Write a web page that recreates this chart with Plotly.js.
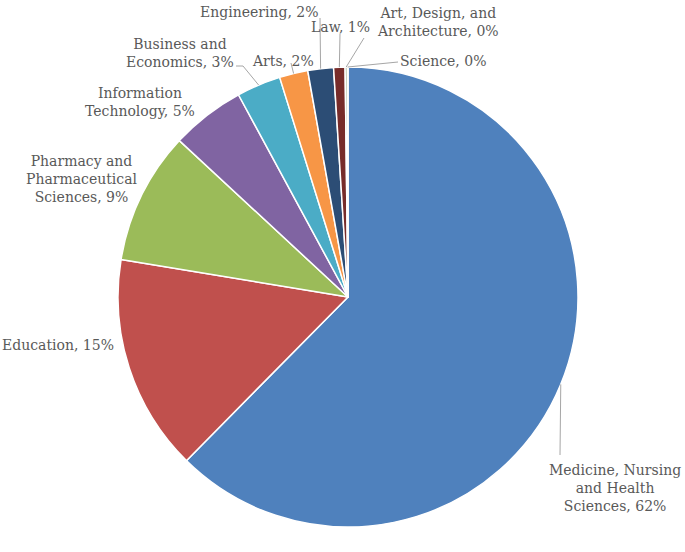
<!DOCTYPE html>
<html>
<head>
<meta charset="utf-8">
<script src="https://cdn.plot.ly/plotly-3.0.1.min.js"></script>
<style>
  html, body { margin: 0; padding: 0; background: #fff; }
  #chart { width: 685px; height: 552px; }
</style>
</head>
<body>
<div id="chart"></div>
<script>
// Données (parts estimées en %)
const categories = [
    'Medicine, Nursing and Health Sciences',
    'Education',
    'Pharmacy and Pharmaceutical Sciences',
    'Information Technology',
    'Business and Economics',
    'Arts',
    'Engineering',
    'Law',
    'Art, Design, and Architecture',
    'Science'
];
const shares = [62.4, 15.2, 9.3, 5.2, 3.1, 2.0, 1.8, 0.8, 0.15, 0.05];
// Étiquettes avec retours à la ligne
const labelText = [
    'Medicine, Nursing<br>and Health<br>Sciences',
    'Education',
    'Pharmacy and<br>Pharmaceutical<br>Sciences',
    'Information<br>Technology',
    'Business and<br>Economics',
    'Arts',
    'Engineering',
    'Law',
    'Art, Design, and<br>Architecture',
    'Science'
];
const colors = ['#4F81BD', '#C0504D', '#9BBB59', '#8064A2', '#4BACC6',
                '#F79646', '#2C4D75', '#772C2A', '#5F7530', '#4D3B62'];

// Mise en page (pixels)
const W = 685, H = 552;
const cx = 348, cy = 297, R = 230;
// centre des étiquettes
const labelPos = [
    [615, 488], [58, 345], [82, 179], [140, 102], [180, 53],
    [283, 61], [259, 12], [340, 27], [438, 22], [443, 61]
];
// extrémité côté étiquette des lignes de rappel (null = pas de ligne)
const leaderEnd = [
    [[560, 455]], null, null, null, [[236, 66], [243, 66]],
    [[291, 63]], [[320, 18]], [[340, 34]], [[364, 38]], [[398, 62]]
];

const px = x => x / W;
const py = y => 1 - y / H;

const total = shares.reduce((a, b) => a + b, 0);

const annotations = [];
const shapes = [];
let cum = 0;
shares.forEach((v, k) => {
    const mid = (cum + v / 2) / total * 2 * Math.PI;
    cum += v;
    const pct = Math.round(v / total * 100) + '%';
    annotations.push({
        x: px(labelPos[k][0]), y: py(labelPos[k][1]),
        xref: 'paper', yref: 'paper',
        xanchor: 'center', yanchor: 'middle',
        align: 'center', showarrow: false,
        text: labelText[k] + ', ' + pct,
        font: { family: 'DejaVu Serif', size: 14, color: '#595959' }
    });
    if (leaderEnd[k]) {
        const ex = cx + R * Math.sin(mid);
        const ey = cy - R * Math.cos(mid);
        const pts = leaderEnd[k].concat([[ex, ey]]);
        const path = pts.map((p, j) => (j ? 'L' : 'M') + px(p[0]) + ',' + py(p[1])).join(' ');
        shapes.push({
            type: 'path', xref: 'paper', yref: 'paper', path: path,
            line: { color: '#a6a6a6', width: 1 }
        });
    }
});

const trace = {
    type: 'pie',
    labels: categories,
    values: shares,
    sort: false,
    direction: 'clockwise',
    rotation: 0,
    textinfo: 'none',
    hoverinfo: 'label+percent',
    marker: { colors: colors, line: { color: '#ffffff', width: 1.5 } },
    domain: { x: [px(cx - R), px(cx + R)], y: [py(cy + R), py(cy - R)] },
    showlegend: false
};

const layout = {
    width: W, height: H,
    margin: { l: 0, r: 0, t: 0, b: 0 },
    paper_bgcolor: '#ffffff',
    showlegend: false,
    annotations: annotations,
    shapes: shapes
};

Plotly.newPlot('chart', [trace], layout, { displayModeBar: false });
</script>
</body>
</html>
